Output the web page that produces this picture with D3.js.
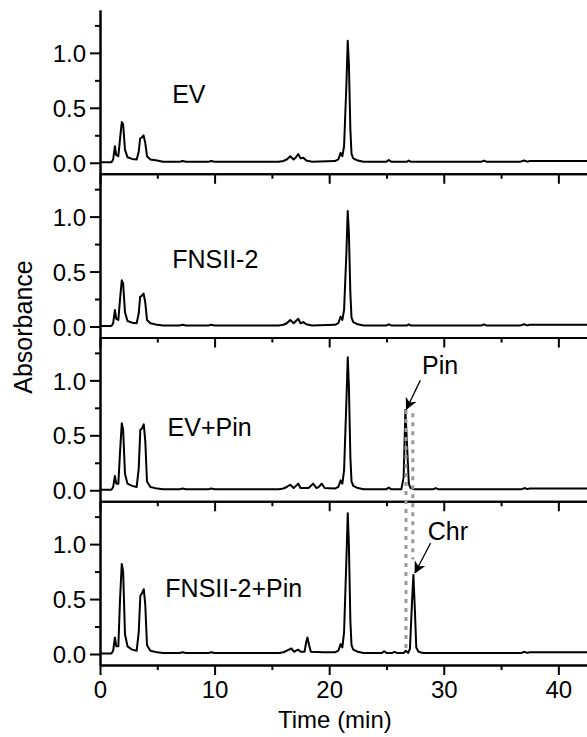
<!DOCTYPE html>
<html>
<head>
<meta charset="utf-8">
<script src="https://cdn.jsdelivr.net/npm/d3@7"></script>
<style>
  html, body { margin: 0; padding: 0; background: #fff; }
  text { font-family: "Liberation Sans", Arial, sans-serif; fill: #000; }
</style>
</head>
<body>
<div id="viz"></div>
<script>
var width = 587,
  height = 737;

// panel names, top to bottom
var panelNames = ['EV', 'FNSII-2', 'EV+Pin', 'FNSII-2+Pin'];

// tick values
var xMajor = [0, 10, 20, 30, 40];
var xMinor = [5, 15, 25, 35];
var yMajor = [0.0, 0.5, 1.0];
var yMinor = [0.25, 0.75, 1.25];

// chromatograms, [time (min), absorbance]
var traceEV = [
  [0, 0.004], [1.0, 0.005], [1.15, 0.03], [1.3, 0.15], [1.42, 0.07], [1.6, 0.06], [1.75, 0.22], [1.9, 0.37], [2.02, 0.35],
  [2.18, 0.12], [2.4, 0.05], [2.8, 0.035], [3.2, 0.03], [3.38, 0.1], [3.5, 0.22], [3.65, 0.23], [3.8, 0.25], [3.95, 0.18],
  [4.1, 0.06], [4.4, 0.03], [5.0, 0.02], [5.5, 0.01], [7.0, 0.01], [7.2, 0.016], [7.5, 0.01], [9.5, 0.01], [9.7, 0.016],
  [10, 0.01], [15.6, 0.01], [16.0, 0.016], [16.3, 0.03], [16.6, 0.06], [16.9, 0.03], [17.1, 0.05], [17.3, 0.08],
  [17.5, 0.04], [17.75, 0.045], [18.0, 0.02], [18.5, 0.01], [20.5, 0.015], [20.8, 0.03], [21.0, 0.09], [21.15, 0.06],
  [21.3, 0.15], [21.5, 0.7], [21.62, 1.11], [21.72, 0.9], [21.85, 0.3], [21.95, 0.08], [22.1, 0.04], [22.5, 0.02],
  [23, 0.01], [25.0, 0.01], [25.2, 0.025], [25.4, 0.01], [26.8, 0.01], [26.95, 0.02], [27.1, 0.01], [33.3, 0.01],
  [33.5, 0.02], [33.7, 0.01], [36.7, 0.01], [37.0, 0.02], [37.3, 0.01], [37.5, 0.016], [42.5, 0.016]
];
var traceFNS = [
  [0, 0.004], [1.0, 0.005], [1.15, 0.03], [1.3, 0.15], [1.42, 0.07], [1.6, 0.06], [1.75, 0.25], [1.9, 0.42], [2.02, 0.39],
  [2.18, 0.13], [2.4, 0.05], [2.8, 0.035], [3.2, 0.03], [3.38, 0.12], [3.5, 0.27], [3.65, 0.28], [3.8, 0.3], [3.95, 0.22],
  [4.1, 0.06], [4.4, 0.03], [5.0, 0.015], [5.5, 0.01], [7.0, 0.01], [7.2, 0.016], [7.5, 0.01], [9.5, 0.01], [9.7, 0.016],
  [10, 0.01], [15.6, 0.01], [16.0, 0.016], [16.3, 0.03], [16.6, 0.06], [16.9, 0.03], [17.1, 0.05], [17.3, 0.07],
  [17.5, 0.03], [17.75, 0.04], [18.0, 0.02], [18.5, 0.01], [20.5, 0.015], [20.8, 0.03], [21.0, 0.09], [21.15, 0.06],
  [21.3, 0.15], [21.5, 0.66], [21.62, 1.05], [21.72, 0.85], [21.85, 0.3], [21.95, 0.08], [22.1, 0.04], [22.5, 0.02],
  [23, 0.01], [25.0, 0.01], [25.2, 0.02], [25.4, 0.01], [26.8, 0.01], [26.95, 0.02], [27.1, 0.01], [33.3, 0.01],
  [33.5, 0.02], [33.7, 0.01], [36.7, 0.01], [37.0, 0.02], [37.3, 0.01], [37.5, 0.016], [42.5, 0.016]
];
var traceEVPin = [
  [0, 0.004], [1.0, 0.005], [1.15, 0.03], [1.3, 0.13], [1.42, 0.06], [1.6, 0.06], [1.75, 0.35], [1.9, 0.61], [2.02, 0.55],
  [2.18, 0.15], [2.4, 0.06], [2.8, 0.04], [3.2, 0.03], [3.38, 0.2], [3.52, 0.55], [3.65, 0.56], [3.82, 0.6], [3.95, 0.45],
  [4.1, 0.08], [4.4, 0.03], [5.0, 0.015], [5.5, 0.01], [7.0, 0.01], [7.2, 0.016], [7.5, 0.01], [9.5, 0.01], [9.7, 0.016],
  [10, 0.01], [15.6, 0.01], [16.0, 0.016], [16.3, 0.03], [16.6, 0.05], [16.9, 0.02], [17.1, 0.04], [17.3, 0.06],
  [17.5, 0.02], [18.2, 0.02], [18.6, 0.06], [18.9, 0.02], [19.1, 0.03], [19.35, 0.06], [19.6, 0.02], [20.5, 0.015],
  [20.8, 0.03], [21.0, 0.09], [21.15, 0.06], [21.3, 0.18], [21.5, 0.8], [21.62, 1.21], [21.72, 0.95], [21.85, 0.3],
  [21.95, 0.08], [22.1, 0.04], [22.5, 0.02], [23, 0.01], [25.0, 0.01], [25.2, 0.025], [25.4, 0.01], [26.3, 0.01],
  [26.5, 0.12], [26.65, 0.73], [26.8, 0.4], [26.95, 0.06], [27.1, 0.02], [27.4, 0.01], [29.1, 0.01], [29.3, 0.02],
  [29.5, 0.01], [36.8, 0.01], [37.1, 0.02], [37.3, 0.01], [37.5, 0.016], [42.5, 0.016]
];
var traceFNSPin = [
  [0, 0.004], [1.0, 0.005], [1.15, 0.03], [1.3, 0.15], [1.42, 0.07], [1.6, 0.07], [1.75, 0.5], [1.9, 0.82], [2.02, 0.75],
  [2.18, 0.18], [2.4, 0.07], [2.8, 0.04], [3.2, 0.03], [3.38, 0.2], [3.52, 0.53], [3.65, 0.55], [3.82, 0.59], [3.95, 0.45],
  [4.1, 0.08], [4.4, 0.03], [5.0, 0.015], [5.5, 0.01], [7.0, 0.01], [7.2, 0.016], [7.5, 0.01], [9.5, 0.01], [9.7, 0.016],
  [10, 0.01], [15.6, 0.01], [16.0, 0.016], [16.3, 0.03], [16.7, 0.05], [16.95, 0.02], [17.1, 0.03], [17.3, 0.04],
  [17.5, 0.02], [17.85, 0.02], [17.98, 0.1], [18.1, 0.15], [18.25, 0.08], [18.4, 0.02], [19.5, 0.015], [20.5, 0.015],
  [20.8, 0.03], [21.0, 0.09], [21.15, 0.06], [21.3, 0.2], [21.5, 0.85], [21.62, 1.28], [21.72, 1.0], [21.85, 0.3],
  [21.95, 0.08], [22.1, 0.04], [22.5, 0.02], [23, 0.01], [24.6, 0.01], [24.8, 0.025], [25.0, 0.01], [25.5, 0.01],
  [25.7, 0.02], [25.9, 0.01], [26.5, 0.01], [26.7, 0.03], [26.9, 0.01], [27.05, 0.05], [27.22, 0.45], [27.35, 0.72],
  [27.48, 0.4], [27.6, 0.06], [27.8, 0.02], [28.2, 0.01], [36.8, 0.01], [37.0, 0.02], [37.3, 0.01], [37.5, 0.016],
  [42.5, 0.016]
];
var traces = [traceEV, traceFNS, traceEVPin, traceFNSPin];

var margin = { left: 100, right: 0, top: 10, bottom: 72 };
var panelH = (height - margin.top - margin.bottom) / panelNames.length;

var svg = d3.select('#viz').append('svg')
  .attr('width', width)
  .attr('height', height);

var defs = svg.append('defs');
defs.append('marker')
  .attr('id', 'arrow')
  .attr('viewBox', '0 0 10 10')
  .attr('refX', 9)
  .attr('refY', 5)
  .attr('markerWidth', 12)
  .attr('markerHeight', 12)
  .attr('markerUnits', 'userSpaceOnUse')
  .attr('orient', 'auto')
  .append('path')
  .attr('d', 'M0,0 L10,5 L0,10 L3,5 Z')
  .attr('fill', '#000');

var x = d3.scaleLinear().domain([0, 42.5]).range([margin.left, width - margin.right]);

function yScale(i) {
  var bottom = margin.top + panelH * (i + 1);
  return d3.scaleLinear().domain([-0.1, 1.39]).range([bottom, bottom - panelH]);
}
var ys = panelNames.map(function (d, i) { return yScale(i); });

// panels
panelNames.forEach(function (name, i) {
  var y = ys[i];
  var g = svg.append('g');

  var xAxis = d3.axisBottom(x).tickValues(xMajor).tickSize(10).tickSizeOuter(0)
    .tickFormat(i === panelNames.length - 1 ? d3.format('d') : '');
  var xAxisMinor = d3.axisBottom(x).tickValues(xMinor).tickSize(5).tickSizeOuter(0).tickFormat('');

  g.append('g')
    .attr('transform', 'translate(0,' + y.range()[0] + ')')
    .call(xAxisMinor);
  g.append('g')
    .attr('class', 'xaxis')
    .attr('transform', 'translate(0,' + y.range()[0] + ')')
    .call(xAxis);

  var yAxis = d3.axisLeft(y).tickValues(yMajor).tickSize(10).tickSizeOuter(0).tickFormat(d3.format('.1f'));
  var yAxisMinor = d3.axisLeft(y).tickValues(yMinor).tickSize(5).tickSizeOuter(0).tickFormat('');
  g.append('g')
    .attr('transform', 'translate(' + margin.left + ',0)')
    .call(yAxisMinor);
  g.append('g')
    .attr('class', 'yaxis')
    .attr('transform', 'translate(' + margin.left + ',0)')
    .call(yAxis);

  var line = d3.line()
    .x(function (d) { return x(d[0]); })
    .y(function (d) { return y(d[1]); });

  g.append('path')
    .datum(traces[i])
    .attr('d', line)
    .attr('fill', 'none')
    .attr('stroke', '#000')
    .attr('stroke-width', 2)
    .attr('stroke-linejoin', 'round');

  g.append('text')
    .attr('x', x([6.3, 6.3, 5.9, 5.7][i]))
    .attr('y', y([0.54, 0.53, 0.49, 0.52][i]))
    .attr('font-size', 25)
    .text(name);
});

svg.selectAll('.domain, .tick line')
  .attr('stroke', '#000')
  .attr('stroke-width', 2);
svg.selectAll('.tick text')
  .attr('font-size', 24)
  .attr('fill', '#000');
svg.selectAll('.yaxis .tick text').attr('x', -14).attr('dy', '0.36em');
svg.selectAll('.xaxis .tick text').attr('y', 16);

// dotted drop lines linking the Pin and Chr peaks
var dropLines = [
  { t: 26.7, from: [2, 0.73], to: [3, 0.04] },
  { t: 27.3, from: [2, 0.7], to: [3, 0.86] }
];
svg.selectAll('.drop')
  .data(dropLines)
  .enter().append('line')
  .attr('x1', function (d) { return x(d.t); })
  .attr('x2', function (d) { return x(d.t); })
  .attr('y1', function (d) { return ys[d.from[0]](d.from[1]); })
  .attr('y2', function (d) { return ys[d.to[0]](d.to[1]); })
  .attr('stroke', '#999')
  .attr('stroke-width', 3)
  .attr('stroke-dasharray', '4,5');

// peak annotations
var notes = [
  { panel: 2, text: 'Pin', tx: 28.1, ty: 1.06, from: [27.95, 1.0], to: [26.75, 0.74] },
  { panel: 3, text: 'Chr', tx: 28.6, ty: 1.04, from: [28.85, 1.01], to: [27.5, 0.74] }
];
notes.forEach(function (n) {
  var y = ys[n.panel];
  svg.append('line')
    .attr('x1', x(n.from[0])).attr('y1', y(n.from[1]))
    .attr('x2', x(n.to[0])).attr('y2', y(n.to[1]))
    .attr('stroke', '#000')
    .attr('stroke-width', 1.3)
    .attr('marker-end', 'url(#arrow)');
  svg.append('text')
    .attr('x', x(n.tx))
    .attr('y', y(n.ty))
    .attr('font-size', 25)
    .text(n.text);
});

// axis titles
svg.append('text')
  .attr('x', x(20.5))
  .attr('y', 728)
  .attr('text-anchor', 'middle')
  .attr('font-size', 24)
  .text('Time (min)');

svg.append('text')
  .attr('transform', 'translate(32,327) rotate(-90)')
  .attr('text-anchor', 'middle')
  .attr('font-size', 25)
  .text('Absorbance');
</script>
</body>
</html>
